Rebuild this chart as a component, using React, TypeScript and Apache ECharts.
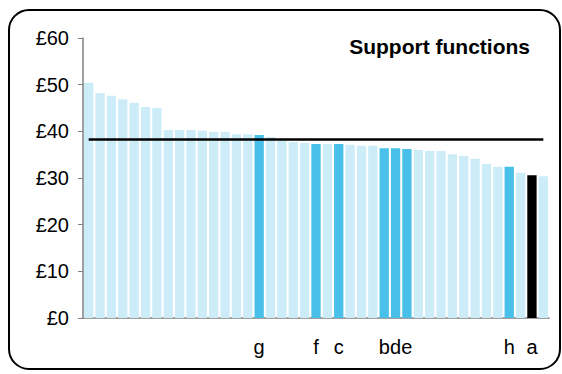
import React, { useEffect, useRef } from "react";
import * as echarts from "echarts";

const labels: string[] = [
  "", "", "", "", "", "", "", "", "", "", "", "", "", "", "", "g",
  "", "", "", "", "f", "", "c", "", "", "", "b", "d", "e", "",
  "", "", "", "", "", "", "", "h", "", "a", "",
];

const values: number[] = [
  50.4, 48.2, 47.6, 46.9, 46.1, 45.2, 45.0, 40.3, 40.3, 40.3, 40.1, 39.9, 39.9, 39.4, 39.4, 39.2,
  38.8, 38.1, 37.7, 37.5, 37.3, 37.3, 37.3, 37.1, 36.9, 36.9, 36.4, 36.4, 36.2, 36.0,
  35.8, 35.8, 35.1, 34.7, 34.1, 33.0, 32.4, 32.4, 31.1, 30.6, 30.4,
];

const average = 38.3;
const yTicks = { min: 0, max: 60, interval: 10 };
const title = "Support functions";

const FONT = "'Liberation Sans', Arial, sans-serif";
const LIGHT = "#CCECF8";
const BLUE = "#48C0EA";
const BLACK = "#000000";

export default function App() {
  const ref = useRef<HTMLDivElement>(null);
  useEffect(() => {
    document.body.style.margin = "0";
    if (!ref.current) return;
    const chart = echarts.init(ref.current, null, { renderer: "svg" });
    chart.setOption({
      animation: false,
      backgroundColor: "#ffffff",
      grid: { left: 83, right: 13, top: 38, bottom: 56, containLabel: false },
      xAxis: {
        type: "category",
        data: labels,
        axisLine: { show: true, lineStyle: { color: "#808080", width: 1.5 } },
        axisTick: { show: false },
        axisLabel: {
          interval: 0,
          margin: 19,
          color: "#000",
          fontFamily: FONT,
          fontSize: 20,
        },
      },
      yAxis: {
        type: "value",
        min: yTicks.min,
        max: yTicks.max,
        interval: yTicks.interval,
        axisLine: { show: true, lineStyle: { color: "#808080", width: 1.5 } },
        axisTick: { show: true, length: 5, lineStyle: { color: "#808080" } },
        splitLine: { show: false },
        axisLabel: {
          margin: 14,
          color: "#000",
          fontFamily: FONT,
          fontSize: 20,
          formatter: (v: number) => "£" + v,
        },
      },
      series: [
        {
          type: "bar",
          barCategoryGap: "18%",
          data: values.map((v, i) => ({
            value: v,
            itemStyle: {
              color: labels[i] === "a" ? BLACK : labels[i] !== "" ? BLUE : LIGHT,
            },
          })),
          markLine: {
            silent: true,
            symbol: "none",
            label: { show: false },
            lineStyle: { color: "#000", width: 2.5, type: "solid" },
            data: [
              [
                { coord: [0, average] },
                { coord: [values.length - 1, average] },
              ],
            ],
          },
        },
      ],
      graphic: [
        {
          type: "rect",
          shape: { x: 9, y: 10, width: 551, height: 359, r: 20 },
          style: { fill: "none", stroke: "#000", lineWidth: 2 },
          z: 100,
        },
        {
          type: "text",
          style: {
            text: title,
            x: 530,
            y: 46,
            textAlign: "right",
            textVerticalAlign: "middle",
            font: `bold 21px ${FONT}`,
            fill: "#000",
          },
          z: 100,
        },
      ],
    });
    return () => chart.dispose();
  }, []);
  return <div ref={ref} style={{ width: 562, height: 374 }} />;
}
